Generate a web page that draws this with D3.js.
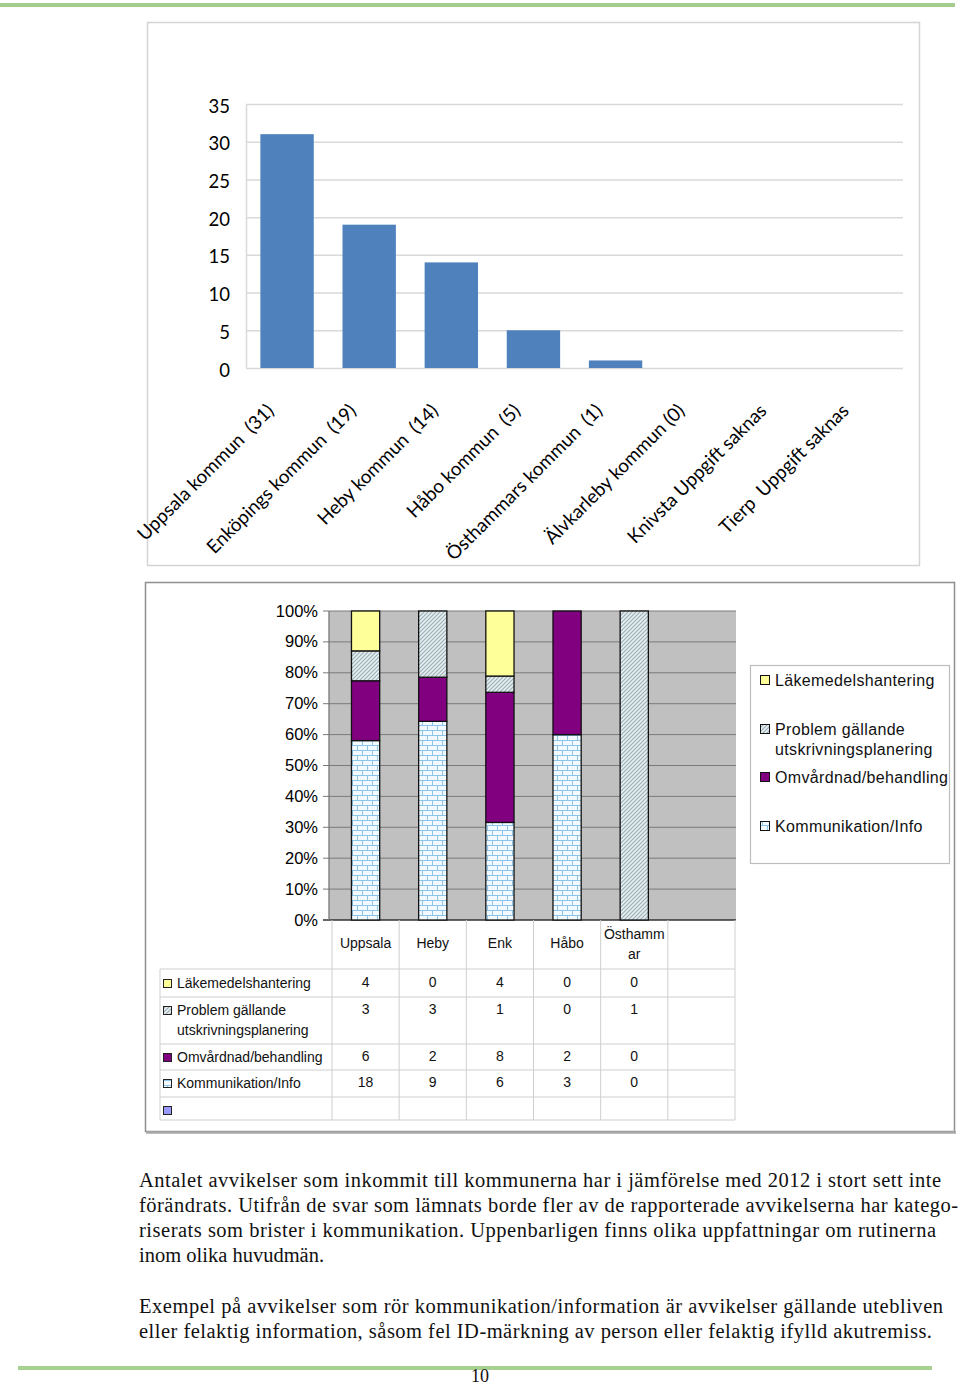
<!DOCTYPE html>
<html>
<head>
<meta charset="utf-8">
<script src="https://cdn.jsdelivr.net/npm/d3@7"></script>
<style>
  html, body { margin: 0; padding: 0; background: #fff; }
  svg { display: block; }
</style>
</head>
<body>
<svg id="page" width="960" height="1385"></svg>
<script>
// ---------- DATA ----------
const topCategories = ["Uppsala kommun  (31)", "Enköpings kommun  (19)", "Heby kommun  (14)", "Håbo kommun  (5)",
  "Östhammars kommun  (1)", "Älvkarleby kommun (0)", "Knivsta Uppgift saknas", "Tierp  Uppgift saknas"];
const topValues = [31, 19, 14, 5, 1, 0, 0, 0];
const topTicks = [0, 5, 10, 15, 20, 25, 30, 35];

const bottomCategories = ["Uppsala", "Heby", "Enk", "Håbo", "Östhammar", ""];
const seriesNames = ["Läkemedelshantering", "Problem gällande utskrivningsplanering", "Omvårdnad/behandling", "Kommunikation/Info"];
const lakemedel = [4, 0, 4, 0, 0];
const problem = [3, 3, 1, 0, 1];
const omvardnad = [6, 2, 8, 2, 0];
const kommunikation = [18, 9, 6, 3, 0];
const pctTicks = [0, 0.1, 0.2, 0.3, 0.4, 0.5, 0.6, 0.7, 0.8, 0.9, 1.0];

const para1 = [
  "Antalet avvikelser som inkommit till kommunerna har i jämförelse med 2012 i stort sett inte",
  "förändrats. Utifrån de svar som lämnats borde fler av de rapporterade avvikelserna har katego-",
  "riserats som brister i kommunikation. Uppenbarligen finns olika uppfattningar om rutinerna",
  "inom olika huvudmän."
];
const para2 = [
  "Exempel på avvikelser som rör kommunikation/information är avvikelser gällande utebliven",
  "eller felaktig information, såsom fel ID-märkning av person eller felaktig ifylld akutremiss."
];
const pageNumber = "10";

// ---------- PAGE ----------
const svg = d3.select("#page");
const defs = svg.append("defs");

// patterns
const hatch = defs.append("pattern").attr("id", "hatch").attr("patternUnits", "userSpaceOnUse")
  .attr("width", 4).attr("height", 4);
hatch.append("rect").attr("width", 4).attr("height", 4).attr("fill", "#e6eef0");
hatch.append("path").attr("d", "M-1,1 l2,-2 M0,4 l4,-4 M3,5 l2,-2").attr("stroke", "#9aaeb6").attr("stroke-width", 1.1);

const brick = defs.append("pattern").attr("id", "brick").attr("patternUnits", "userSpaceOnUse")
  .attr("width", 10).attr("height", 10);
brick.append("rect").attr("width", 10).attr("height", 10).attr("fill", "#f3faff");
brick.append("path")
  .attr("d", "M0,0.5 H10 M0,5.5 H10 M2.5,0 V5 M7.5,5 V10")
  .attr("stroke", "#8cc4ea").attr("stroke-width", 1).attr("fill", "none");

const seriesFill = {
  "Läkemedelshantering": "#ffff99",
  "Problem gällande utskrivningsplanering": "url(#hatch)",
  "Omvårdnad/behandling": "#800080",
  "Kommunikation/Info": "url(#brick)"
};

// green page rules
svg.append("rect").attr("x", 0).attr("y", 3).attr("width", 955).attr("height", 4).attr("fill", "#a3cd8e");
svg.append("rect").attr("x", 18).attr("y", 1366).attr("width", 914).attr("height", 4).attr("fill", "#a8d08f");

// ---------- TOP CHART ----------
svg.append("rect").attr("x", 147.5).attr("y", 22.5).attr("width", 772).attr("height", 543)
  .attr("fill", "#fff").attr("stroke", "#d4d4d4").attr("stroke-width", 1.5);

const xTop = d3.scaleBand().domain(topCategories).range([246, 903]).paddingInner(0.35).paddingOuter(0.175);
const yTop = d3.scaleLinear().domain([0, 35]).range([368, 104]);

const gTop = svg.append("g");
gTop.selectAll("line.grid").data(topTicks).join("line")
  .attr("x1", 246).attr("x2", 903)
  .attr("y1", d => yTop(d) + 0.5).attr("y2", d => yTop(d) + 0.5)
  .attr("stroke", "#d9d9d9").attr("stroke-width", 1.5);
gTop.append("line").attr("x1", 246.5).attr("x2", 246.5).attr("y1", yTop(35)).attr("y2", yTop(0))
  .attr("stroke", "#d9d9d9").attr("stroke-width", 1.5);

gTop.selectAll("text.tick").data(topTicks).join("text")
  .attr("x", 230).attr("y", d => yTop(d) + 8.5)
  .attr("text-anchor", "end")
  .style("font-family", "Lato, 'Open Sans', sans-serif").style("font-size", "18.5px").attr("fill", "#000")
  .text(d => d);

gTop.selectAll("rect.bar").data(topValues.map((v, i) => ({ c: topCategories[i], v })).filter(d => d.v > 0)).join("rect")
  .attr("x", d => xTop(d.c)).attr("width", xTop.bandwidth())
  .attr("y", d => yTop(d.v)).attr("height", d => yTop(0) - yTop(d.v))
  .attr("fill", "#4f81bd");

gTop.selectAll("text.xl").data(topCategories).join("text")
  .attr("transform", d => `translate(${xTop(d) + xTop.bandwidth() / 2 - 12},${412}) rotate(-45)`)
  .attr("text-anchor", "end")
  .style("font-family", "Lato, 'Open Sans', sans-serif").style("font-size", "18.8px").attr("fill", "#000")
  .style("white-space", "pre")
  .text(d => d);

// ---------- BOTTOM CHART ----------
svg.append("rect").attr("x", 145.5).attr("y", 582.5).attr("width", 809).attr("height", 549)
  .attr("fill", "#fff").attr("stroke", "#8f8f8f").attr("stroke-width", 1.5);
svg.append("line").attr("x1", 146).attr("x2", 956).attr("y1", 1132.5).attr("y2", 1132.5)
  .attr("stroke", "#a8a8a8").attr("stroke-width", 2.5);

const plotL = 329, plotR = 736;
const xB = d3.scaleBand().domain(bottomCategories).range([332, 735]).paddingInner(0.58).paddingOuter(0.29);
const yB = d3.scaleLinear().domain([0, 1]).range([920, 611]);

const gB = svg.append("g");
gB.append("rect").attr("x", plotL).attr("y", yB(1)).attr("width", plotR - plotL).attr("height", yB(0) - yB(1))
  .attr("fill", "#c0c0c0");
gB.selectAll("line.grid").data(pctTicks.filter(d => d > 0)).join("line")
  .attr("x1", plotL - 6).attr("x2", plotR)
  .attr("y1", d => yB(d)).attr("y2", d => yB(d))
  .attr("stroke", "#7a7a7a").attr("stroke-width", 1);
gB.append("line").attr("x1", plotL - 6).attr("x2", plotR).attr("y1", yB(0)).attr("y2", yB(0))
  .attr("stroke", "#333").attr("stroke-width", 1.3);
gB.append("line").attr("x1", plotL).attr("x2", plotL).attr("y1", yB(1)).attr("y2", yB(0))
  .attr("stroke", "#777").attr("stroke-width", 1.3);

gB.selectAll("text.tick").data(pctTicks).join("text")
  .attr("x", 318).attr("y", d => yB(d) + 5.5)
  .attr("text-anchor", "end")
  .style("font-family", "'Liberation Sans', Arial, sans-serif").style("font-size", "16.5px").attr("fill", "#000")
  .text(d => Math.round(d * 100) + "%");

// stacked data
const rows = bottomCategories.slice(0, 5).map((c, i) => ({
  cat: c,
  "Läkemedelshantering": lakemedel[i],
  "Problem gällande utskrivningsplanering": problem[i],
  "Omvårdnad/behandling": omvardnad[i],
  "Kommunikation/Info": kommunikation[i]
}));
const stackKeys = [seriesNames[3], seriesNames[2], seriesNames[1], seriesNames[0]];
const stacked = d3.stack().keys(stackKeys).offset(d3.stackOffsetExpand)(rows);

stacked.forEach(layer => {
  gB.selectAll(null).data(layer.filter(d => d[1] - d[0] > 0)).join("rect")
    .attr("x", d => xB(d.data.cat)).attr("width", xB.bandwidth())
    .attr("y", d => yB(d[1])).attr("height", d => yB(d[0]) - yB(d[1]))
    .attr("fill", seriesFill[layer.key])
    .attr("stroke", "#111").attr("stroke-width", 1.3);
});

// legend
const legX = 750, legY = 665;
svg.append("rect").attr("x", legX + 0.5).attr("y", legY + 0.5).attr("width", 199).attr("height", 198)
  .attr("fill", "#fff").attr("stroke", "#bdbdbd").attr("stroke-width", 1.2);
const legendLines = [["Läkemedelshantering"], ["Problem gällande", "utskrivningsplanering"], ["Omvårdnad/behandling"], ["Kommunikation/Info"]];
const legendKeyY = [680, 729, 777, 826];
seriesNames.forEach((s, i) => {
  const g = svg.append("g");
  g.append("rect").attr("x", 760.5).attr("y", legendKeyY[i] - 4.5).attr("width", 9).attr("height", 9)
    .attr("fill", seriesFill[s]).attr("stroke", "#111").attr("stroke-width", 1);
  legendLines[i].forEach((t, j) => {
    g.append("text").attr("x", 775).attr("y", legendKeyY[i] + 6 + j * 20)
      .style("font-family", "'Liberation Sans', Arial, sans-serif").style("font-size", "16px")
      .style("letter-spacing", "0.35px").attr("fill", "#111").text(t);
  });
});

// data table
const tableL = 160, tableR = 735;
const colEdges = d3.range(bottomCategories.length + 1).map(i => xB.range()[0] + i * xB.step());
const rowEdges = [969, 997, 1044, 1070, 1097, 1120];
const lineColor = "#cfcfcf";
const gT = svg.append("g");
colEdges.forEach(x => {
  gT.append("line").attr("x1", x).attr("x2", x).attr("y1", 920).attr("y2", 1120)
    .attr("stroke", lineColor).attr("stroke-width", 1);
});
gT.append("line").attr("x1", tableL).attr("x2", tableL).attr("y1", rowEdges[0]).attr("y2", 1120)
  .attr("stroke", lineColor).attr("stroke-width", 1);
rowEdges.forEach(y => {
  gT.append("line").attr("x1", tableL).attr("x2", tableR).attr("y1", y).attr("y2", y)
    .attr("stroke", lineColor).attr("stroke-width", 1);
});
const tfont = "'Liberation Sans', Arial, sans-serif";
bottomCategories.forEach(c => {
  const cx = xB(c) + xB.bandwidth() / 2;
  const lines = c.length > 8 ? [c.slice(0, 7), c.slice(7)] : [c];
  lines.forEach((t, j) => {
    gT.append("text").attr("x", cx).attr("y", lines.length > 1 ? 939 + j * 20 : 948)
      .attr("text-anchor", "middle").style("font-family", tfont).style("font-size", "14px")
      .attr("fill", "#111").text(t);
  });
});
const tableSeries = [
  { name: seriesNames[0], lines: ["Läkemedelshantering"], vals: lakemedel, y: 988 },
  { name: seriesNames[1], lines: ["Problem gällande", "utskrivningsplanering"], vals: problem, y: 1015 },
  { name: seriesNames[2], lines: ["Omvårdnad/behandling"], vals: omvardnad, y: 1062 },
  { name: seriesNames[3], lines: ["Kommunikation/Info"], vals: kommunikation, y: 1088 }
];
tableSeries.forEach(r => {
  gT.append("rect").attr("x", 163.5).attr("y", r.y - 8.5).attr("width", 8).attr("height", 8)
    .attr("fill", seriesFill[r.name]).attr("stroke", "#222").attr("stroke-width", 1);
  r.lines.forEach((t, j) => {
    gT.append("text").attr("x", 177).attr("y", r.y + j * 20)
      .style("font-family", tfont).style("font-size", "14px").attr("fill", "#111").text(t);
  });
  r.vals.forEach((v, i) => {
    const c = bottomCategories[i];
    gT.append("text").attr("x", xB(c) + xB.bandwidth() / 2).attr("y", r.y - 1)
      .attr("text-anchor", "middle").style("font-family", tfont).style("font-size", "14px")
      .attr("fill", "#111").text(v);
  });
});
gT.append("rect").attr("x", 163.5).attr("y", 1106.5).attr("width", 8).attr("height", 8)
  .attr("fill", "#9999ff").attr("stroke", "#222").attr("stroke-width", 1);

// ---------- BODY TEXT ----------
const serif = "'Liberation Serif', 'Times New Roman', serif";
const p1Right = [941, 958, 936, null];
para1.forEach((t, i) => {
  const el = svg.append("text").attr("x", 139).attr("y", 1187 + i * 25)
    .style("font-family", serif).style("font-size", "20.5px").attr("fill", "#111").text(t);
  if (p1Right[i]) el.attr("textLength", p1Right[i] - 139).attr("lengthAdjust", "spacing");
});
const p2Right = [943, 932];
para2.forEach((t, i) => {
  svg.append("text").attr("x", 139).attr("y", 1313 + i * 25)
    .style("font-family", serif).style("font-size", "20.5px").attr("fill", "#111")
    .attr("textLength", p2Right[i] - 139).attr("lengthAdjust", "spacing").text(t);
});
svg.append("text").attr("x", 480).attr("y", 1382).attr("text-anchor", "middle")
  .style("font-family", serif).style("font-size", "18px").attr("fill", "#111").text(pageNumber);
</script>
</body>
</html>
